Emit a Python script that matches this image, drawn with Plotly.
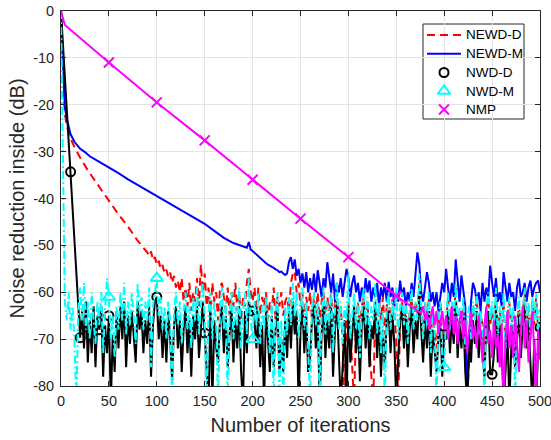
import plotly.graph_objects as go

# ---------------- data ----------------
# NEWD-D (red dashed)
newd_d_x_smooth = [0, 2, 4, 6, 8, 10, 14, 20, 28, 40, 50, 60, 70, 80, 90]
newd_d_y_smooth = [0, -12, -22, -24.5, -26, -27.2, -29, -31.3, -34, -37.6, -40.5, -43.4, -46, -49, -51.5]
newd_d_y_noise = [  # x = 92 .. 500 step 2
    -52.3, -51.3, -53.2, -52.5, -54.2, -53.3, -55, -54.2, -56, -55.2,
    -56.8, -55.8, -58, -56.5, -59, -57.5, -60, -57, -62, -59,
    -63, -58, -64, -60, -62, -57, -63, -54, -60, -56,
    -63, -59, -65, -58, -62, -60, -66, -59, -58, -61,
    -64, -59, -65, -60, -63, -58, -64, -60, -66, -61,
    -63, -58, -55, -60, -62, -59, -64, -59, -65, -61,
    -63, -60, -66, -62, -64, -59, -66, -61, -63, -60,
    -65, -62, -61, -64, -58, -56, -55.5, -60, -58, -63,
    -60, -66, -61, -64, -60, -66, -61, -65, -60, -67,
    -62, -60, -66, -61, -64, -60, -68, -62, -60, -66,
    -63, -70, -84, -66, -62, -68, -75, -84, -66, -62,
    -68, -63, -61, -67, -62, -72, -78, -84, -63, -68,
    -62, -66, -61, -69, -63, -61, -67, -62, -65, -70,
    -84, -66, -62, -68, -63, -70, -64, -61, -67, -62,
    -65, -58, -64, -69, -62, -67, -61, -70, -64, -68,
    -72, -66, -62, -70, -68, -66, -61, -68, -63, -66,
    -59, -69, -64, -67, -62, -72, -84, -74, -70, -63,
    -66, -61, -69, -64, -67, -74, -64, -61, -67, -64,
    -68, -60, -70, -64, -67, -62, -72, -65, -62, -68,
    -64, -72, -67, -62, -69, -64, -60, -67, -63, -70,
    -62, -67, -61, -68, -65,
]

# NEWD-M (blue solid)
newd_m_x_smooth = [0, 2, 4, 6, 8, 10, 14, 20, 25, 30, 40, 46, 60, 70, 80, 90, 100,
                   110, 120, 130, 140, 150, 160, 170, 180, 190, 194]
newd_m_y_smooth = [0, -11, -20.5, -23, -25, -26.3, -27.9, -29.4, -30.1, -31, -32.2, -32.9,
                   -34.6, -35.9, -37.1, -38.3, -39.5, -40.7, -41.9, -43.1, -44.2, -45.4,
                   -46.9, -48.4, -49.5, -50.2, -50.5]
newd_m_y_noise = [  # x = 196 .. 500 step 2
    -49.3, -50.9, -51.2, -51.6, -51.9, -52.4, -52.7, -53.1, -53.4, -53.8,
    -54.1, -54.3, -54.6, -54.8, -55.1, -55.3, -55.7, -55.6, -56, -56.3,
    -56, -53.5, -52.5, -55, -53, -56.5, -55, -58, -56, -59,
    -55.7, -60, -57, -59.5, -56, -60, -55.3, -58, -61, -57,
    -59, -53.6, -57, -60, -56, -62, -58, -60, -57, -61,
    -58, -55, -57, -61, -58, -56.4, -60, -58, -62, -59,
    -61, -57, -60, -57.5, -62, -59, -61, -58, -63, -59,
    -61, -58, -62, -57.8, -61, -59, -63, -60, -62, -57.5,
    -61, -59, -63, -60, -62, -58, -61, -56, -51.5, -54,
    -60, -62, -59, -55.7, -58, -62, -60, -63, -60, -64,
    -61, -58, -60, -55, -59, -62, -58, -61, -53, -58,
    -62, -56.4, -60, -63, -84, -72, -62, -58, -59.3, -62,
    -60, -64, -58, -62, -59, -61, -54.3, -58, -61, -57,
    -62, -60, -63, -55.7, -59, -62, -58, -61, -60, -64,
    -59, -57.1, -61, -60, -58, -62, -59, -57.5, -61, -59,
    -58, -57.5, -60,
]

# NWD-D (black solid), x = 0 .. 500 step 2
nwd_d_y = [
    0, -7, -14, -21, -27.5, -34.3, -42, -50, -57, -62,
    -69.7, -64, -72, -62, -75, -66, -73, -63, -76, -65,
    -68, -63, -78, -67, -73, -65, -84, -69, -77, -64,
    -72, -63, -70, -62, -76, -65, -71, -64, -69, -75,
    -62, -68, -64, -73, -66, -71, -63, -78, -67, -62,
    -61, -70, -65, -74, -66, -75, -64, -70, -79, -67,
    -63, -72, -66, -77, -68, -63, -73, -66, -78, -65,
    -70, -63, -74, -67, -62, -68.7, -76, -84, -64, -84,
    -66, -72, -75, -66, -63, -73, -65, -76, -69, -63,
    -75, -66, -72, -63, -77, -84, -64, -73, -62, -64,
    -64, -66, -72, -64, -76, -67, -84, -64, -70, -77,
    -65, -76, -68, -63, -78, -70, -77, -66, -74, -64,
    -72, -62, -69, -64, -84, -68, -63, -73, -65, -77,
    -74, -66, -63, -72, -65, -84, -69, -62, -74, -66,
    -72, -63, -78, -68, -62, -73, -84, -76, -66, -84,
    -63, -75, -68, -63, -73, -66, -79, -67, -63, -72,
    -65, -76, -67, -70, -62, -74, -66, -78, -68, -76,
    -66, -64, -73, -65, -71, -84, -74, -66, -64, -72,
    -65, -76, -68, -63, -73, -66, -70, -60, -68, -75,
    -66, -72, -64, -78, -68, -73, -77, -70, -66, -78,
    -69, -70, -64, -73, -66, -71, -62, -74, -67, -72,
    -65, -77, -84, -68, -75, -66, -71, -64, -74, -68,
    -73, -78, -67, -64, -77.5, -77.5, -73, -63, -75, -67,
    -72, -84, -77, -68, -84, -72, -67, -76, -70, -65,
    -74, -67, -63, -72, -66, -75, -84, -70, -84, -72,
    -67.5,
]

# NWD-M (cyan dash-dot), x = 0 .. 500 step 2
nwd_m_y = [
    0, -30, -62, -66, -60, -68, -63, -70, -84, -64,
    -59, -66, -58, -68, -62, -70, -60, -66, -71, -62,
    -67, -60, -73, -64, -57, -61, -70, -65, -74, -63,
    -68, -60, -66, -58, -69, -62, -67, -60, -65, -71,
    -58, -64, -61, -68, -62, -66, -59, -76, -63, -60,
    -57, -65, -61, -68, -63, -70, -62, -66, -84, -64,
    -60, -67, -62, -71, -64, -60, -68, -63, -72, -61,
    -66, -59, -69, -63, -58, -66, -84, -64, -60, -70,
    -62, -67, -84, -63, -59, -68, -62, -84, -65, -60,
    -70, -63, -67, -59, -72, -64, -60, -69, -57, -66,
    -70, -62, -67, -60, -71, -63, -68, -61, -66, -73,
    -62, -84, -64, -60, -84, -66, -84, -63, -69, -61,
    -67, -58, -65, -60, -70, -64, -59, -68, -62, -72,
    -84, -63, -60, -67, -62, -84, -65, -59, -69, -62,
    -67, -60, -73, -64, -58, -68, -62, -71, -63, -66,
    -56, -70, -64, -60, -68, -62, -74, -64, -59, -67,
    -61, -70, -63, -66, -58, -69, -62, -73, -64, -84,
    -63, -60, -68, -62, -66, -59, -70, -63, -60, -67,
    -62, -71, -64, -59, -68, -62, -66, -56, -64, -70,
    -62, -67, -60, -73, -64, -68, -84, -66, -62, -74,
    -76, -65, -60, -68, -62, -66, -58, -69, -63, -67,
    -61, -72, -66, -63, -70, -62, -66, -60, -69, -64,
    -68, -84, -63, -60, -66, -62, -68, -59, -70, -63,
    -67, -60, -72, -64, -61, -68, -63, -84, -66, -61,
    -69, -63, -59, -67, -62, -70, -61, -66, -60, -68,
    -65,
]

# NMP (magenta)
nmp_x_smooth = [0, 4, 50, 100, 150, 200, 250, 300, 350, 376]
nmp_y_smooth = [0, -3, -11, -19.5, -27.6, -36, -44.3, -52.5, -60.8, -64.5]
nmp_y_noise = [  # x = 378 .. 500 step 2
    -63, -66, -64, -68, -65, -63, -67, -64, -69, -66,
    -64, -68, -65, -70, -66, -63, -69, -65, -71, -66,
    -64, -70, -66, -73, -68, -64, -70, -67, -72, -65,
    -69, -75, -67, -63, -71, -68, -74, -66, -72, -69,
    -76, -67, -84, -70, -64, -72, -67, -74, -65, -71,
    -77, -68, -63, -72, -66, -75, -69, -64, -73, -84,
    -68, -74,
]

nwd_d_markers = [10, 20, 40, 50, 100, 150, 200, 400, 450, 500]
nwd_m_markers = [50, 100, 200, 400, 500]
nmp_markers = [50, 100, 150, 200, 250, 300, 350, 500]

series_names = ["NEWD-D", "NEWD-M", "NWD-D", "NWD-M", "NMP"]
x_ticks = list(range(0, 501, 50))
y_ticks = list(range(-80, 1, 10))

# ---------------- styles ----------------
LW = 2
styles = {
    "NEWD-D": dict(line=dict(color="#FF0000", width=LW, dash="8px,5px")),
    "NEWD-M": dict(line=dict(color="#0000FF", width=LW)),
    "NWD-D": dict(line=dict(color="#000000", width=LW),
                  marker=dict(symbol="circle-open", size=9, color="#000000",
                              line=dict(width=2, color="#000000"))),
    "NWD-M": dict(line=dict(color="#00FFFF", width=LW, dash="8px,3px,2px,3px"),
                  marker=dict(symbol="triangle-up-open", size=11, color="#00FFFF",
                              line=dict(width=2, color="#00FFFF"))),
    "NMP": dict(line=dict(color="#FF00FF", width=LW),
                marker=dict(symbol="x-thin-open", size=10, color="#FF00FF",
                            line=dict(width=2, color="#FF00FF"))),
}

# ---------------- build series ----------------
full_x = list(range(0, 501, 2))
data = {
    "NEWD-D": (newd_d_x_smooth + list(range(92, 501, 2)), newd_d_y_smooth + newd_d_y_noise, None),
    "NEWD-M": (newd_m_x_smooth + list(range(196, 501, 2)), newd_m_y_smooth + newd_m_y_noise, None),
    "NWD-D": (full_x, nwd_d_y, nwd_d_markers),
    "NWD-M": (full_x, nwd_m_y, nwd_m_markers),
    "NMP": (nmp_x_smooth + list(range(378, 501, 2)), nmp_y_smooth + nmp_y_noise, nmp_markers),
}

fig = go.Figure()
for name in series_names:
    xs, ys, marks = data[name]
    st = styles[name]
    fig.add_trace(go.Scatter(x=xs, y=ys, mode="lines", name=name, showlegend=False,
                             line=st["line"], hoverinfo="skip"))
    if marks:
        d = dict(zip(xs, ys))
        mx = [m for m in marks if m in d]
        fig.add_trace(go.Scatter(x=mx, y=[d[m] for m in mx], mode="markers", name=name,
                                 showlegend=False, marker=st["marker"]))

# ---------------- hand-made legend (MATLAB look) ----------------
PL, PR, PT, PB = 61, 540, 11, 386   # plot area in pixels


def px(v):
    return (v - PL) / (PR - PL)


def py(v):
    return (PB - v) / (PB - PT)


box = dict(l=423, r=524, t=24, b=119)
row_y = [35, 53.8, 72.5, 91, 109.5]
samp_l, samp_r, samp_c, text_l = 427, 461, 444, 464

fig.add_shape(type="rect", xref="paper", yref="paper", layer="between",
              x0=px(box["l"]), x1=px(box["r"]), y0=py(box["b"]), y1=py(box["t"]),
              line=dict(color="#262626", width=1), fillcolor="white")

for name, ry in zip(series_names, row_y):
    st = styles[name]
    if "marker" in st:
        fig.add_trace(go.Scatter(x=[px(samp_c)], y=[py(ry)], mode="markers",
                                 xaxis="x2", yaxis="y2", showlegend=False,
                                 hoverinfo="skip", marker=st["marker"]))
    else:
        fig.add_trace(go.Scatter(x=[px(samp_l), px(samp_r)], y=[py(ry), py(ry)], mode="lines",
                                 xaxis="x2", yaxis="y2", showlegend=False,
                                 hoverinfo="skip", line=st["line"]))
    fig.add_annotation(x=px(text_l), y=py(ry), xref="paper", yref="paper",
                       text=name, showarrow=False, xanchor="left", yanchor="middle",
                       font=dict(size=13.5, color="#000000"))

# ---------------- axes ----------------
axis_common = dict(
    showline=True, linecolor="#262626", linewidth=1, mirror="ticks",
    ticks="inside", ticklen=5, tickcolor="#262626",
    showgrid=True, gridcolor="#E3E3E3", gridwidth=1, zeroline=False,
    tickfont=dict(size=14.5, color="#262626"),
    automargin=False, ticklabeloverflow="allow",
)

fig.update_layout(
    xaxis=dict(range=[0, 500], tickvals=x_ticks, ticktext=[str(v) for v in x_ticks],
               ticklabelstandoff=2,
               title=dict(text="Number of iterations", font=dict(size=20, color="#262626"),
                          standoff=9),
               **axis_common),
    yaxis=dict(range=[-80, 0], tickvals=y_ticks, ticktext=[str(v) for v in y_ticks],
               ticklabelstandoff=3,
               title=dict(text="Noise reduction inside (dB)", font=dict(size=20, color="#262626"),
                          standoff=3),
               **axis_common),
    xaxis2=dict(range=[0, 1], overlaying="x", visible=False, fixedrange=True),
    yaxis2=dict(range=[0, 1], overlaying="y", visible=False, fixedrange=True),
    width=551, height=440,
    margin=dict(l=PL, r=551 - PR, t=PT, b=440 - PB),
    plot_bgcolor="white", paper_bgcolor="white",
    font=dict(family="Liberation Sans, Arial, sans-serif", color="#262626"),
    showlegend=False,
)

fig.write_html("out.html")
